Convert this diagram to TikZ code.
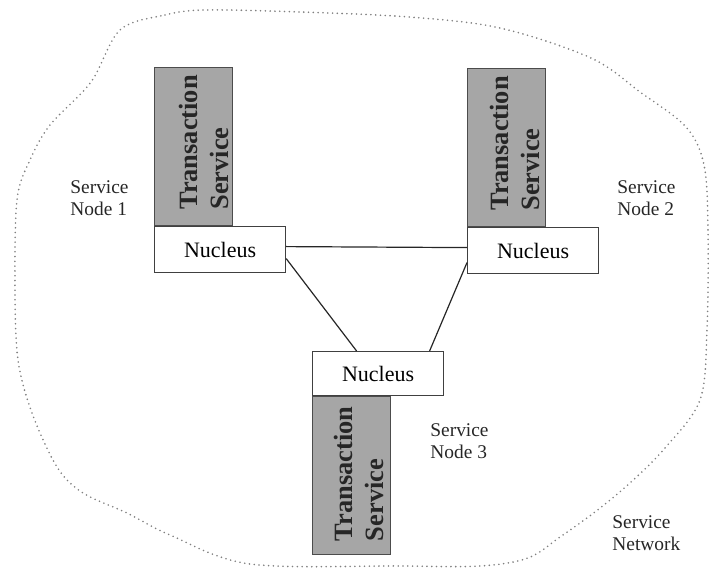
\documentclass[tikz,border=0pt]{standalone}
\usepackage{fontspec}
\setmainfont{Liberation Serif}
\usetikzlibrary{positioning}

\begin{document}
\begin{tikzpicture}[x=0.5pt,y=-0.5pt]

\def\nucfont{\fontsize{11}{13}\selectfont}
\def\tsfont{\fontsize{13.2}{15.5}\selectfont\bfseries}
\def\labfont{\fontsize{9.7}{11.2}\selectfont}

\tikzset{
  nucleus/.style={draw=black!75, line width=0.6pt, fill=white, minimum width=65.5pt, minimum height=23pt, inner sep=0pt, font=\nucfont},
  tsbox/.style={draw=black!70, line width=0.6pt, fill=black!35, minimum width=39pt, minimum height=79pt, inner sep=0pt},
  tslabel/.style={rotate=90, align=left, inner sep=0pt, text=black!85, font=\tsfont},
  sidelabel/.style={align=left, inner sep=0pt, anchor=north west, text=black!85, font=\labfont},
  link/.style={line width=0.6pt, black!85},
  cloud/.style={black!50, line width=0.9pt, line cap=round, dash pattern=on 0pt off 2.4pt}
}

\useasboundingbox (0,0) rectangle (709,572);

% service network border
\draw[cloud] plot[smooth cycle, tension=0.55] coordinates {
  (120,30) (165,15) (205,10) (300,12) (409,17) (500,28) (591,58) (640,92)
  (686,127) (704,165) (708,230) (707,330) (700,400) (665,448) (630,483)
  (595,512) (560,537) (528,558) (480,566) (400,566) (250,564) (170,535) (127,513)
  (83,493) (57,467) (32,413) (18,360) (15,290) (17,200) (30,160) (50,125) (91,82)};

\node[nucleus,anchor=north west] (N1) at (154,226) {Nucleus};
\node[nucleus,anchor=north west] (N2) at (467,227) {Nucleus};
\node[nucleus,anchor=north west,minimum height=22pt] (N3) at (312,351) {Nucleus};

\node[tsbox,above=0pt of N1.north west,anchor=south west] (TS1) {};
\node[tsbox,above=0pt of N2.north west,anchor=south west] (TS2) {};
\node[tsbox,below=0pt of N3.south west,anchor=north west] (TS3) {};

\node[tslabel] (TL1) at ([xshift=5pt,yshift=2pt]TS1.center) {Transaction\\Service};
\node[tslabel] (TL2) at ([xshift=4pt,yshift=2pt]TS2.center) {Transaction\\Service};
\node[tslabel] (TL3) at ([xshift=3.5pt,yshift=1pt]TS3.center) {Transaction\\Service};

\node[sidelabel] (SN1) at (70,180) {Service\\Node 1};
\node[sidelabel] (SN2) at (617,180) {Service\\Node 2};
\node[sidelabel] (SN3) at (430,423) {Service\\Node 3};
\node[sidelabel] (SNet) at (612,515) {Service\\Network};

\draw[link] ([yshift=1.5pt]N1.east) -- ([yshift=1.5pt]N2.west);
\draw[link] ([yshift=-4.5pt]N1.east) -- ([xshift=-10.75pt]N3.north);
\draw[link] ([yshift=-6pt]N2.west) -- ([xshift=25.75pt]N3.north);
\end{tikzpicture}
\end{document}
